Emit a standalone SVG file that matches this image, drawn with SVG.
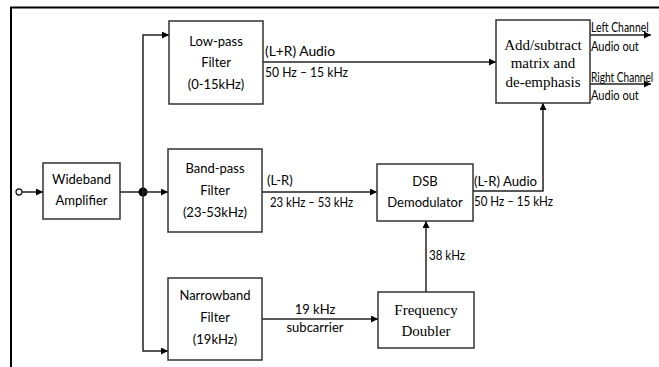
<svg xmlns="http://www.w3.org/2000/svg" width="659" height="367" viewBox="0 0 659 367">
<defs>
<marker id="ah" viewBox="0 0 10 10" refX="10" refY="5" markerWidth="7" markerHeight="7" markerUnits="userSpaceOnUse" orient="auto">
<path d="M0,0 L10,5 L0,10 z" fill="#000"/>
</marker>
<style>
.box{fill:#fff;stroke:#333;stroke-width:1.5}
.t{font-family:Lato,"Open Sans",sans-serif;font-size:13px;fill:#000;text-anchor:middle}
.tl{font-family:Lato,"Open Sans",sans-serif;font-size:13px;fill:#000}
.s{font-family:"Liberation Serif","Times New Roman",serif;font-size:15px;fill:#000;text-anchor:middle}
.c{fill:none;stroke:#222;stroke-width:1.5}
</style>
</defs>
<rect width="659" height="367" fill="#fff"/>
<path d="M11,367 L11,7.5 L659,7.5" fill="none" stroke="#000" stroke-width="2"/>
<g id="connectors">
<circle cx="19" cy="192" r="3" fill="#fff" stroke="#222" stroke-width="1.3"/>
<line class="c" x1="22" y1="192" x2="43" y2="192" marker-end="url(#ah)"/>
<line class="c" x1="120" y1="192" x2="143" y2="192"/>
<circle cx="143" cy="192" r="4.5" fill="#000"/>
<line class="c" x1="143" y1="192" x2="168" y2="192" marker-end="url(#ah)"/>
<polyline class="c" points="143,192 143,35 169,35" marker-end="url(#ah)"/>
<polyline class="c" points="143,192 143,351 168,351" marker-end="url(#ah)"/>
<line class="c" x1="263" y1="62" x2="496" y2="62" marker-end="url(#ah)"/>
<line class="c" x1="262" y1="192" x2="377" y2="192" marker-end="url(#ah)"/>
<polyline class="c" points="473,191 543,191 543,103" marker-end="url(#ah)"/>
<line class="c" x1="426" y1="292" x2="426" y2="221" marker-end="url(#ah)"/>
<line class="c" x1="262" y1="319" x2="378" y2="319" marker-end="url(#ah)"/>
<line class="c" x1="590" y1="35" x2="651" y2="35" marker-end="url(#ah)"/>
<line class="c" x1="590" y1="84" x2="651" y2="84" marker-end="url(#ah)"/>
<text class="tl" x="265" y="56" textLength="70" lengthAdjust="spacingAndGlyphs">(L+R) Audio</text>
<text class="tl" x="265" y="77" textLength="83" lengthAdjust="spacingAndGlyphs">50 Hz – 15 kHz</text>
<text class="tl" x="267" y="185">(L-R)</text>
<text class="tl" x="270" y="207" textLength="83" lengthAdjust="spacingAndGlyphs">23 kHz – 53 kHz</text>
<text class="tl" x="474" y="186" textLength="63" lengthAdjust="spacingAndGlyphs">(L-R) Audio</text>
<text class="tl" x="474" y="206" textLength="79" lengthAdjust="spacingAndGlyphs">50 Hz – 15 kHz</text>
<text class="tl" x="429" y="260" textLength="36" lengthAdjust="spacingAndGlyphs">38 kHz</text>
<text class="t" x="315" y="314">19 kHz</text>
<text class="t" x="315" y="332">subcarrier</text>
<text class="tl" transform="translate(591,32) scale(0.8,1)">Left Channel</text>
<text class="tl" transform="translate(591,51) scale(0.85,1)">Audio out</text>
<text class="tl" transform="translate(591,82) scale(0.78,1)">Right Channel</text>
<text class="tl" transform="translate(591,100) scale(0.85,1)">Audio out</text>
</g>
<g id="wideband">
<rect class="box" x="43" y="163" width="77" height="56"/>
<text class="t" x="81.5" y="184">Wideband</text>
<text class="t" x="81.5" y="205">Amplifier</text>
</g>
<g id="lowpass">
<rect class="box" x="169" y="21" width="94" height="83"/>
<text class="t" x="216" y="46">Low-pass</text>
<text class="t" x="216" y="67">Filter</text>
<text class="t" x="216" y="89">(0-15kHz)</text>
</g>
<g id="bandpass">
<rect class="box" x="168" y="149" width="94" height="83"/>
<text class="t" x="215" y="173">Band-pass</text>
<text class="t" x="215" y="195">Filter</text>
<text class="t" x="215" y="217">(23-53kHz)</text>
</g>
<g id="narrowband">
<rect class="box" x="168" y="278" width="94" height="82"/>
<text class="t" x="215" y="300">Narrowband</text>
<text class="t" x="215" y="322">Filter</text>
<text class="t" x="215" y="344">(19kHz)</text>
</g>
<g id="dsb">
<rect class="box" x="377" y="164" width="96" height="57"/>
<text class="t" x="425" y="186">DSB</text>
<text class="t" x="425" y="207">Demodulator</text>
</g>
<g id="doubler">
<rect class="box" x="378" y="292" width="96" height="56"/>
<text class="s" x="426" y="315">Frequency</text>
<text class="s" x="426" y="336">Doubler</text>
</g>
<g id="matrix">
<rect class="box" x="496" y="20" width="94" height="83"/>
<text class="s" x="543" y="50">Add/subtract</text>
<text class="s" x="543" y="68">matrix and</text>
<text class="s" x="543" y="87">de-emphasis</text>
</g>
</svg>
